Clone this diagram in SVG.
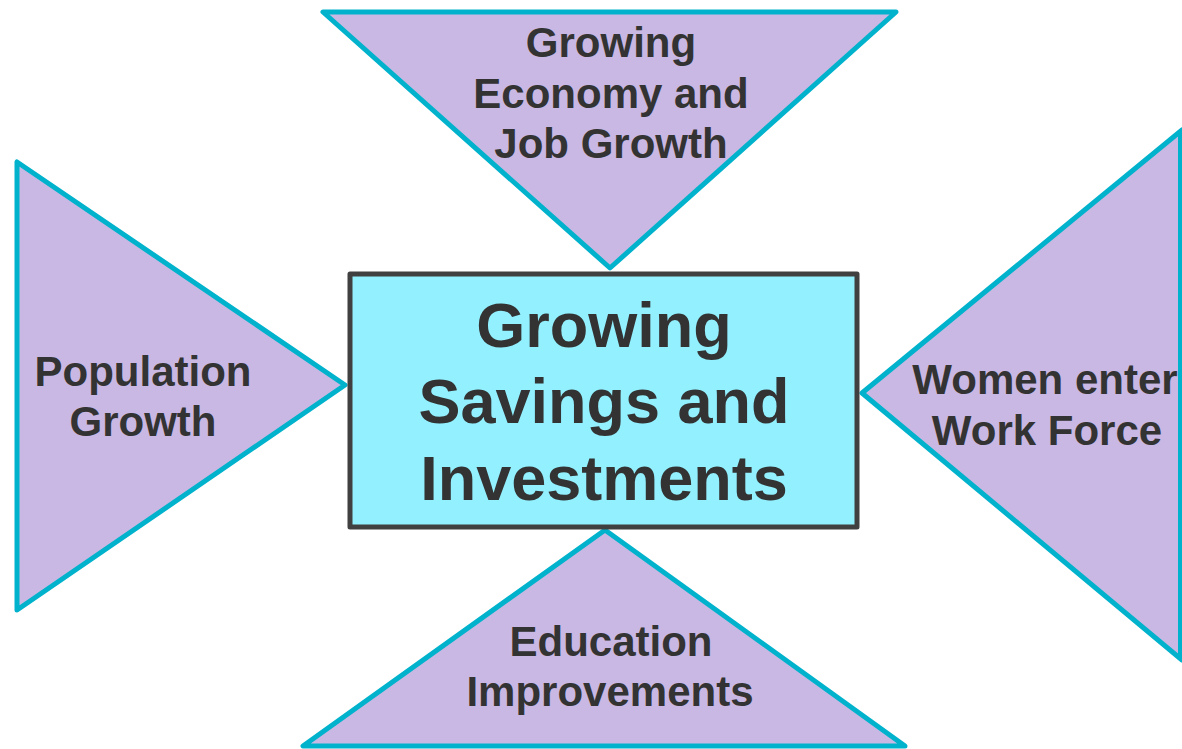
<svg xmlns="http://www.w3.org/2000/svg" width="1182" height="749" viewBox="0 0 1182 749">
<style>
.tri{fill:#C9B8E4;stroke:#00B2CC;stroke-width:5;stroke-linejoin:round}
.box{fill:#92F0FF;stroke:#404040;stroke-width:5;stroke-linejoin:round}
.t{font-family:"Liberation Sans",Arial,sans-serif;font-weight:bold;fill:#333333;text-anchor:middle;font-size:42px}
.big{font-size:63px}
</style>
<rect width="1182" height="749" fill="#FFFFFF"/>
<g id="connectors"></g>
<g id="top">
<polygon class="tri" points="323,12 896,12 610,268"/>
<text class="t" x="611" y="57">Growing</text>
<text class="t" x="611" y="108">Economy and</text>
<text class="t" x="611" y="158">Job Growth</text>
</g>
<g id="left">
<polygon class="tri" points="17,162 17,610 345,385"/>
<text class="t" x="143" y="386">Population</text>
<text class="t" x="143" y="436">Growth</text>
</g>
<g id="right">
<polygon class="tri" points="1182,130 1182,660 862,393"/>
<line x1="1180" y1="130" x2="1180" y2="660" stroke="#00B2CC" stroke-width="4"/>
<text class="t" x="1045" y="394">Women enter</text>
<text class="t" x="1047" y="445">Work Force</text>
</g>
<g id="bottom">
<polygon class="tri" points="605,530 303,746 905,746"/>
<text class="t" x="611" y="656">Education</text>
<text class="t" x="610" y="706">Improvements</text>
</g>
<g id="center">
<rect class="box" x="350" y="274" width="507" height="253"/>
<text class="t big" x="604" y="347">Growing</text>
<text class="t big" x="604" y="423">Savings and</text>
<text class="t big" x="604" y="500">Investments</text>
</g>
</svg>
